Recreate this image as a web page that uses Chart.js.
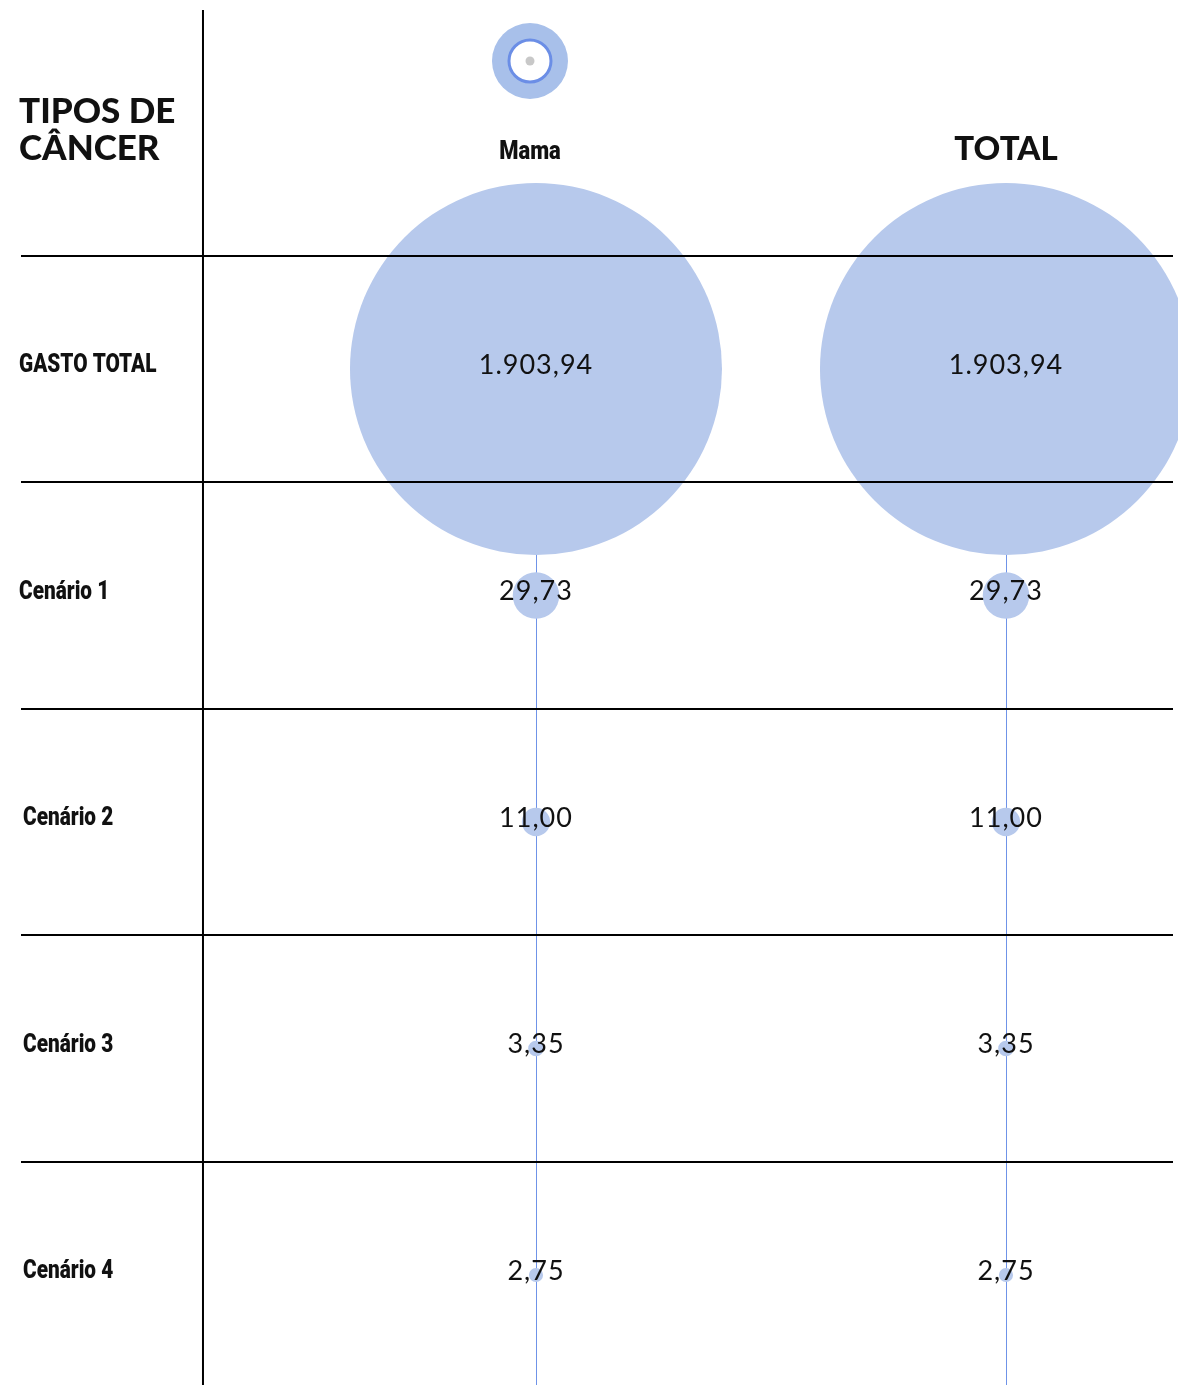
<!DOCTYPE html>
<html>
<head>
<meta charset="utf-8">
<script src="https://cdn.jsdelivr.net/npm/chart.js@4.4.1/dist/chart.umd.min.js"></script>
<style>
  html, body { margin: 0; padding: 0; background: #fff; }
  #wrap { width: 1178px; height: 1385px; position: relative; }
</style>
</head>
<body>
<div id="wrap"><canvas id="chart"></canvas></div>
<script>
const headerTitle = ['TIPOS DE', 'CÂNCER'];
const columns = ['Mama', 'TOTAL'];
const rows = ['GASTO TOTAL', 'Cenário 1', 'Cenário 2', 'Cenário 3', 'Cenário 4'];
const mamaValues = [1903.94, 29.73, 11.00, 3.35, 2.75];
const totalValues = [1903.94, 29.73, 11.00, 3.35, 2.75];

const BUBBLE = '#b7c9ec';
const LINE_BLUE = '#6f93e8';
const MAX_R = 186;
const maxValue = Math.max(...mamaValues, ...totalValues);

const CONDENSED = '"Roboto", "Liberation Sans", sans-serif';
const HEAD = '"Lato", "Open Sans", sans-serif';
const NUM = '"Lato", "Noto Sans", sans-serif';

// pt-BR style number, e.g. 1.903,94
function fmt(v) {
  const [intPart, dec] = v.toFixed(2).split('.');
  return intPart.replace(/\B(?=(\d{3})+(?!\d))/g, '.') + ',' + dec;
}

function toPoints(values, col) {
  return values.map((v, i) => ({ x: col, y: i, r: MAX_R * Math.sqrt(v / maxValue), v: v }));
}

// narrow text by squeezing it horizontally
function narrowText(ctx, text, x, y, squeeze) {
  ctx.save();
  ctx.translate(x, y);
  ctx.scale(squeeze, 1);
  ctx.fillText(text, 0, 0);
  ctx.restore();
}

const tablePlugin = {
  id: 'tablePlugin',
  beforeDatasetsDraw(chart) {
    const { ctx, scales: { x, y } } = chart;
    ctx.save();
    ctx.strokeStyle = LINE_BLUE;
    ctx.lineWidth = 1;
    columns.forEach((c, i) => {
      const px = Math.round(x.getPixelForValue(i)) + 0.5;
      ctx.beginPath();
      ctx.moveTo(px, y.getPixelForValue(0));
      ctx.lineTo(px, chart.height);
      ctx.stroke();
    });
    ctx.restore();
  },
  afterDatasetsDraw(chart) {
    const { ctx, scales: { x, y } } = chart;
    const col0 = x.getPixelForValue(0);
    ctx.save();

    // grid
    ctx.strokeStyle = '#000';
    ctx.lineWidth = 2;
    const vx = col0 - 333;
    ctx.beginPath();
    ctx.moveTo(vx, 10);
    ctx.lineTo(vx, chart.height);
    ctx.stroke();
    rows.forEach((r, i) => {
      const py = Math.round(y.getPixelForValue(i - 0.5));
      ctx.beginPath();
      ctx.moveTo(21, py);
      ctx.lineTo(1173, py);
      ctx.stroke();
    });

    // header title
    ctx.fillStyle = '#111';
    ctx.textAlign = 'left';
    ctx.textBaseline = 'alphabetic';
    ctx.font = '900 35px ' + HEAD;
    headerTitle.forEach((t, i) => ctx.fillText(t, 19, 123 + i * 37));

    // column labels
    ctx.textAlign = 'center';
    columns.forEach((c, i) => {
      const px = x.getPixelForValue(i);
      if (i === columns.length - 1) {
        ctx.font = '900 33px ' + HEAD;
        ctx.fillText(c, px, 160);
      } else {
        ctx.font = '900 25px ' + CONDENSED;
        narrowText(ctx, c, px - 6, 159, 0.88);
      }
    });

    // row labels
    ctx.textAlign = 'left';
    ctx.textBaseline = 'middle';
    ctx.font = '900 26px ' + CONDENSED;
    rows.forEach((r, i) => narrowText(ctx, r, i < 2 ? 19 : 23, y.getPixelForValue(i) - 3, 0.8));

    // values
    ctx.textAlign = 'center';
    ctx.font = '27px ' + NUM;
    ctx.letterSpacing = '1px';
    chart.data.datasets.forEach((ds) => {
      ds.data.forEach((p) => {
        ctx.fillText(fmt(p.v), x.getPixelForValue(p.x), y.getPixelForValue(p.y) - 4);
      });
    });
    ctx.letterSpacing = '0px';

    // legend icon
    const ix = col0 - 6, iy = 61;
    ctx.fillStyle = '#a8c0ea';
    ctx.beginPath(); ctx.arc(ix, iy, 38, 0, Math.PI * 2); ctx.fill();
    ctx.fillStyle = '#fff';
    ctx.strokeStyle = '#6b8ee6';
    ctx.lineWidth = 3;
    ctx.beginPath(); ctx.arc(ix, iy, 21, 0, Math.PI * 2); ctx.fill(); ctx.stroke();
    ctx.fillStyle = '#c8c8c8';
    ctx.beginPath(); ctx.arc(ix, iy, 4.5, 0, Math.PI * 2); ctx.fill();

    ctx.restore();
  }
};

new Chart(document.getElementById('chart'), {
  type: 'bubble',
  data: {
    datasets: [
      { label: columns[0], data: toPoints(mamaValues, 0), backgroundColor: BUBBLE, borderWidth: 0, hoverRadius: 0 },
      { label: columns[1], data: toPoints(totalValues, 1), backgroundColor: BUBBLE, borderWidth: 0, hoverRadius: 0 }
    ]
  },
  options: {
    responsive: true,
    maintainAspectRatio: false,
    animation: false,
    layout: { padding: 0, autoPadding: false },
    plugins: { legend: { display: false }, tooltip: { enabled: false } },
    scales: {
      x: { type: 'linear', min: -1.1404, max: 1.366, display: false },
      y: { type: 'linear', min: -1.6291, max: 4.4857, reverse: true, display: false }
    }
  },
  plugins: [tablePlugin]
});
</script>
</body>
</html>
